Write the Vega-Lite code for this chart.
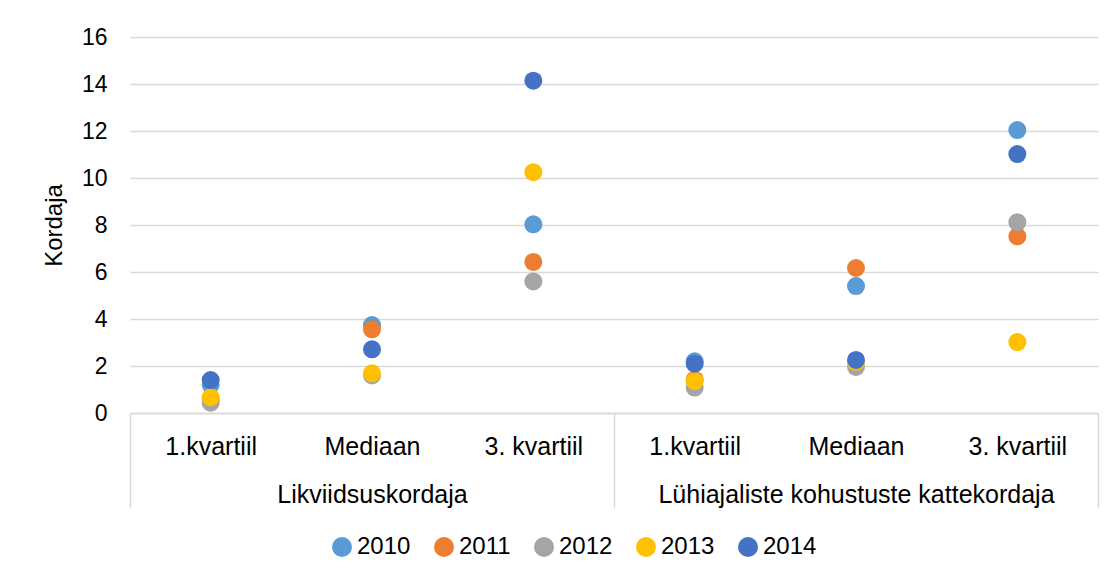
{
  "$schema": "https://vega.github.io/schema/vega-lite/v6.json",
  "autosize": {"type": "none"},
  "padding": {"left": 130, "top": 37, "right": 18, "bottom": 162},
  "width": 968,
  "height": 376,
  "background": "white",
  "config": {
    "view": {"stroke": null},
    "font": "Liberation Sans",
    "axis": {"labelColor": "#000000", "titleColor": "#000000", "labelFont": "Liberation Sans", "titleFont": "Liberation Sans"},
    "legend": {"labelColor": "#000000", "labelFont": "Liberation Sans"}
  },
  "data": {
    "values": [
      {"group": "Likviidsuskordaja", "key": "L|1.kvartiil", "year": "2010", "value": 1.2},
      {"group": "Likviidsuskordaja", "key": "L|1.kvartiil", "year": "2011", "value": 0.55},
      {"group": "Likviidsuskordaja", "key": "L|1.kvartiil", "year": "2012", "value": 0.44},
      {"group": "Likviidsuskordaja", "key": "L|1.kvartiil", "year": "2013", "value": 0.67},
      {"group": "Likviidsuskordaja", "key": "L|1.kvartiil", "year": "2014", "value": 1.4},
      {"group": "Likviidsuskordaja", "key": "L|Mediaan", "year": "2010", "value": 3.74},
      {"group": "Likviidsuskordaja", "key": "L|Mediaan", "year": "2011", "value": 3.56},
      {"group": "Likviidsuskordaja", "key": "L|Mediaan", "year": "2012", "value": 1.6},
      {"group": "Likviidsuskordaja", "key": "L|Mediaan", "year": "2013", "value": 1.69},
      {"group": "Likviidsuskordaja", "key": "L|Mediaan", "year": "2014", "value": 2.71},
      {"group": "Likviidsuskordaja", "key": "L|3. kvartiil", "year": "2010", "value": 8.03},
      {"group": "Likviidsuskordaja", "key": "L|3. kvartiil", "year": "2011", "value": 6.43},
      {"group": "Likviidsuskordaja", "key": "L|3. kvartiil", "year": "2012", "value": 5.6},
      {"group": "Likviidsuskordaja", "key": "L|3. kvartiil", "year": "2013", "value": 10.25},
      {"group": "Likviidsuskordaja", "key": "L|3. kvartiil", "year": "2014", "value": 14.14},
      {"group": "Lühiajaliste kohustuste kattekordaja", "key": "K|1.kvartiil", "year": "2010", "value": 2.2},
      {"group": "Lühiajaliste kohustuste kattekordaja", "key": "K|1.kvartiil", "year": "2011", "value": 1.42},
      {"group": "Lühiajaliste kohustuste kattekordaja", "key": "K|1.kvartiil", "year": "2012", "value": 1.08},
      {"group": "Lühiajaliste kohustuste kattekordaja", "key": "K|1.kvartiil", "year": "2013", "value": 1.36},
      {"group": "Lühiajaliste kohustuste kattekordaja", "key": "K|1.kvartiil", "year": "2014", "value": 2.1},
      {"group": "Lühiajaliste kohustuste kattekordaja", "key": "K|Mediaan", "year": "2010", "value": 5.4},
      {"group": "Lühiajaliste kohustuste kattekordaja", "key": "K|Mediaan", "year": "2011", "value": 6.17},
      {"group": "Lühiajaliste kohustuste kattekordaja", "key": "K|Mediaan", "year": "2012", "value": 1.96},
      {"group": "Lühiajaliste kohustuste kattekordaja", "key": "K|Mediaan", "year": "2013", "value": 2.18},
      {"group": "Lühiajaliste kohustuste kattekordaja", "key": "K|Mediaan", "year": "2014", "value": 2.26},
      {"group": "Lühiajaliste kohustuste kattekordaja", "key": "K|3. kvartiil", "year": "2010", "value": 12.04},
      {"group": "Lühiajaliste kohustuste kattekordaja", "key": "K|3. kvartiil", "year": "2011", "value": 7.52},
      {"group": "Lühiajaliste kohustuste kattekordaja", "key": "K|3. kvartiil", "year": "2012", "value": 8.12},
      {"group": "Lühiajaliste kohustuste kattekordaja", "key": "K|3. kvartiil", "year": "2013", "value": 3.02},
      {"group": "Lühiajaliste kohustuste kattekordaja", "key": "K|3. kvartiil", "year": "2014", "value": 11.02}
    ]
  },
  "encoding": {
    "y": {
      "field": "value",
      "type": "quantitative",
      "scale": {"domain": [0, 16], "nice": false, "zero": true},
      "axis": {
        "title": "Kordaja",
        "titleFontSize": 24,
        "titleFontWeight": "normal",
        "titlePadding": 15,
        "labelFontSize": 23,
        "labelPadding": 23,
        "ticks": false,
        "tickSize": 0,
        "domain": false,
        "grid": true,
        "gridColor": "#d9d9d9",
        "gridWidth": 1.3,
        "values": [0, 2, 4, 6, 8, 10, 12, 14, 16]
      }
    }
  },
  "layer": [
    {
      "mark": {"type": "point", "filled": true, "opacity": 1, "size": 324, "strokeWidth": 0},
      "encoding": {
        "x": {
          "field": "key",
          "type": "nominal",
          "sort": null,
          "scale": {"type": "point", "padding": 0.5},
          "axis": {
            "orient": "bottom",
            "title": null,
            "labelExpr": "split(datum.label, '|')[1]",
            "labelFontSize": 25,
            "labelPadding": 21,
            "labelAngle": 0,
            "ticks": false,
            "tickSize": 0,
            "domain": true,
            "domainColor": "#d9d9d9",
            "domainWidth": 1.5,
            "grid": false
          }
        },
        "color": {
          "field": "year",
          "type": "nominal",
          "scale": {
            "domain": ["2010", "2011", "2012", "2013", "2014"],
            "range": ["#5B9BD5", "#ED7D31", "#A5A5A5", "#FFC000", "#4472C4"]
          },
          "legend": {
            "orient": "none",
            "legendX": 200,
            "legendY": 498,
            "direction": "horizontal",
            "columns": 5,
            "title": null,
            "symbolType": "circle",
            "symbolSize": 400,
            "symbolStrokeWidth": 0,
            "labelFontSize": 24,
            "labelOffset": 3,
            "columnPadding": 21,
            "padding": 0
          }
        }
      }
    },
    {
      "mark": {"type": "point", "opacity": 0},
      "encoding": {
        "x": {
          "field": "group",
          "type": "nominal",
          "sort": null,
          "scale": {"type": "band", "paddingInner": 0, "paddingOuter": 0},
          "axis": {
            "orient": "bottom",
            "title": null,
            "tickBand": "extent",
            "ticks": true,
            "tickSize": 94,
            "tickColor": "#d9d9d9",
            "tickWidth": 1.5,
            "domain": false,
            "labelFontSize": 25,
            "labelPadding": -25,
            "labelLimit": 1000,
            "labelAngle": 0,
            "grid": false
          }
        }
      }
    }
  ],
  "resolve": {"scale": {"x": "independent"}, "axis": {"x": "independent"}}
}
